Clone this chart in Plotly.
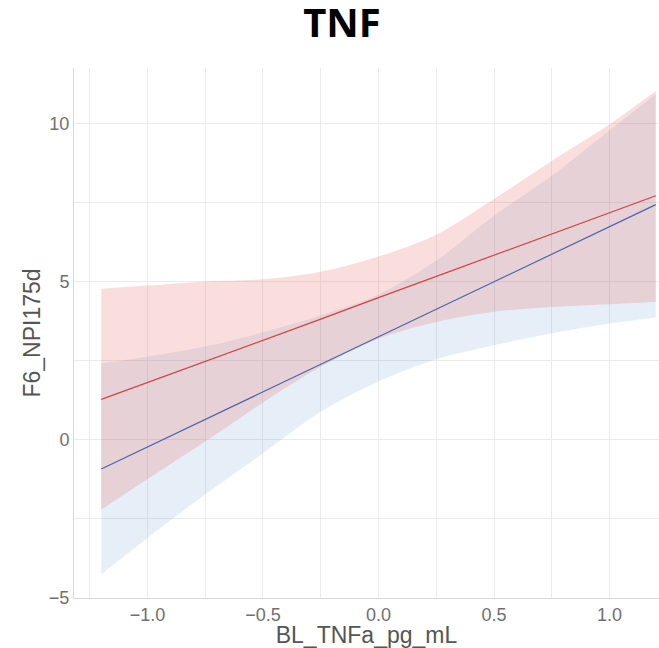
import plotly.graph_objects as go

# x positions (BL_TNFa_pg_mL)
x_vals = [-1.2, -1.0, -0.75, -0.5, -0.25, 0.0, 0.25, 0.5, 0.75, 1.0, 1.2]

# red group: fitted line and confidence band
red_fit = [1.28, 1.81, 2.48, 3.15, 3.82, 4.50, 5.17, 5.84, 6.52, 7.18, 7.72]
red_upper = [4.78, 4.88, 5.01, 5.08, 5.32, 5.80, 6.49, 7.62, 8.82, 9.98, 11.03]
red_lower = [-2.21, -1.24, -0.05, 1.18, 2.31, 3.20, 3.73, 4.05, 4.20, 4.29, 4.36]

# blue group: fitted line and confidence band
blue_fit = [-0.92, -0.22, 0.65, 1.52, 2.39, 3.26, 4.13, 5.00, 5.87, 6.74, 7.44]
blue_upper = [2.42, 2.63, 2.95, 3.40, 3.94, 4.60, 5.67, 7.09, 8.35, 9.79, 10.93]
blue_lower = [-4.25, -3.10, -1.72, -0.42, 0.89, 1.85, 2.55, 2.99, 3.37, 3.68, 3.87]

title_text = "TNF"
x_title = "BL_TNFa_pg_mL"
y_title = "F6_NPI175d"

RED_FILL = "rgba(230,90,90,0.2)"
BLUE_FILL = "rgba(60,130,190,0.13)"
RED_LINE = "rgb(214,64,68)"
BLUE_LINE = "rgb(76,100,168)"

fig = go.Figure()

band_line = dict(width=0, shape="spline", smoothing=0.9)
# blue band
fig.add_trace(go.Scatter(x=x_vals, y=blue_upper, mode="lines", line=band_line,
                         hoverinfo="skip", showlegend=False))
fig.add_trace(go.Scatter(x=x_vals, y=blue_lower, mode="lines", line=band_line,
                         fill="tonexty", fillcolor=BLUE_FILL, hoverinfo="skip", showlegend=False))
# red band
fig.add_trace(go.Scatter(x=x_vals, y=red_upper, mode="lines", line=band_line,
                         hoverinfo="skip", showlegend=False))
fig.add_trace(go.Scatter(x=x_vals, y=red_lower, mode="lines", line=band_line,
                         fill="tonexty", fillcolor=RED_FILL, hoverinfo="skip", showlegend=False))
# fitted lines
fig.add_trace(go.Scatter(x=x_vals, y=red_fit, mode="lines", line=dict(color=RED_LINE, width=1.2),
                         showlegend=False))
fig.add_trace(go.Scatter(x=x_vals, y=blue_fit, mode="lines", line=dict(color=BLUE_LINE, width=1.2),
                         showlegend=False))

GRID = "#ebebeb"
fig.update_layout(
    width=659, height=648,
    margin=dict(l=74, r=0, t=68, b=50),
    paper_bgcolor="white", plot_bgcolor="white",
    title=dict(text=title_text, x=0.519, xref="container", xanchor="center",
               y=1 - 23 / 648, yref="container", yanchor="middle",
               font=dict(family="Open Sans", size=40, color="black", weight="bold")),
    font=dict(family="Liberation Sans"),
    xaxis=dict(range=[-1.318, 1.214], tickvals=[-1.0, -0.5, 0.0, 0.5, 1.0],
               ticktext=["\u22121.0", "\u22120.5", "0.0", "0.5", "1.0"],
               showgrid=True, gridcolor=GRID, gridwidth=1,
               minor=dict(dtick=0.25, tick0=0, showgrid=True, gridcolor=GRID, gridwidth=1),
               showline=True, linecolor="#d9d9d9", linewidth=1,
               zeroline=False, ticks="",
               tickfont=dict(size=18, color="#707070"),
               title=dict(text=x_title, font=dict(size=23, color="#555555"), standoff=4)),
    yaxis=dict(range=[-5, 11.76], tickvals=[-5, 0, 5, 10],
               ticktext=["\u22125", "0", "5", "10"],
               showgrid=True, gridcolor=GRID, gridwidth=1,
               minor=dict(dtick=2.5, tick0=0, showgrid=True, gridcolor=GRID, gridwidth=1),
               showline=True, linecolor="#d9d9d9", linewidth=1,
               zeroline=False, ticks="",
               tickfont=dict(size=18, color="#707070"),
               title=dict(text=y_title, font=dict(size=23, color="#555555"), standoff=1)),
)

fig.write_html("out.html", config={"displayModeBar": False},
               post_script="document.body.style.margin='0';")
